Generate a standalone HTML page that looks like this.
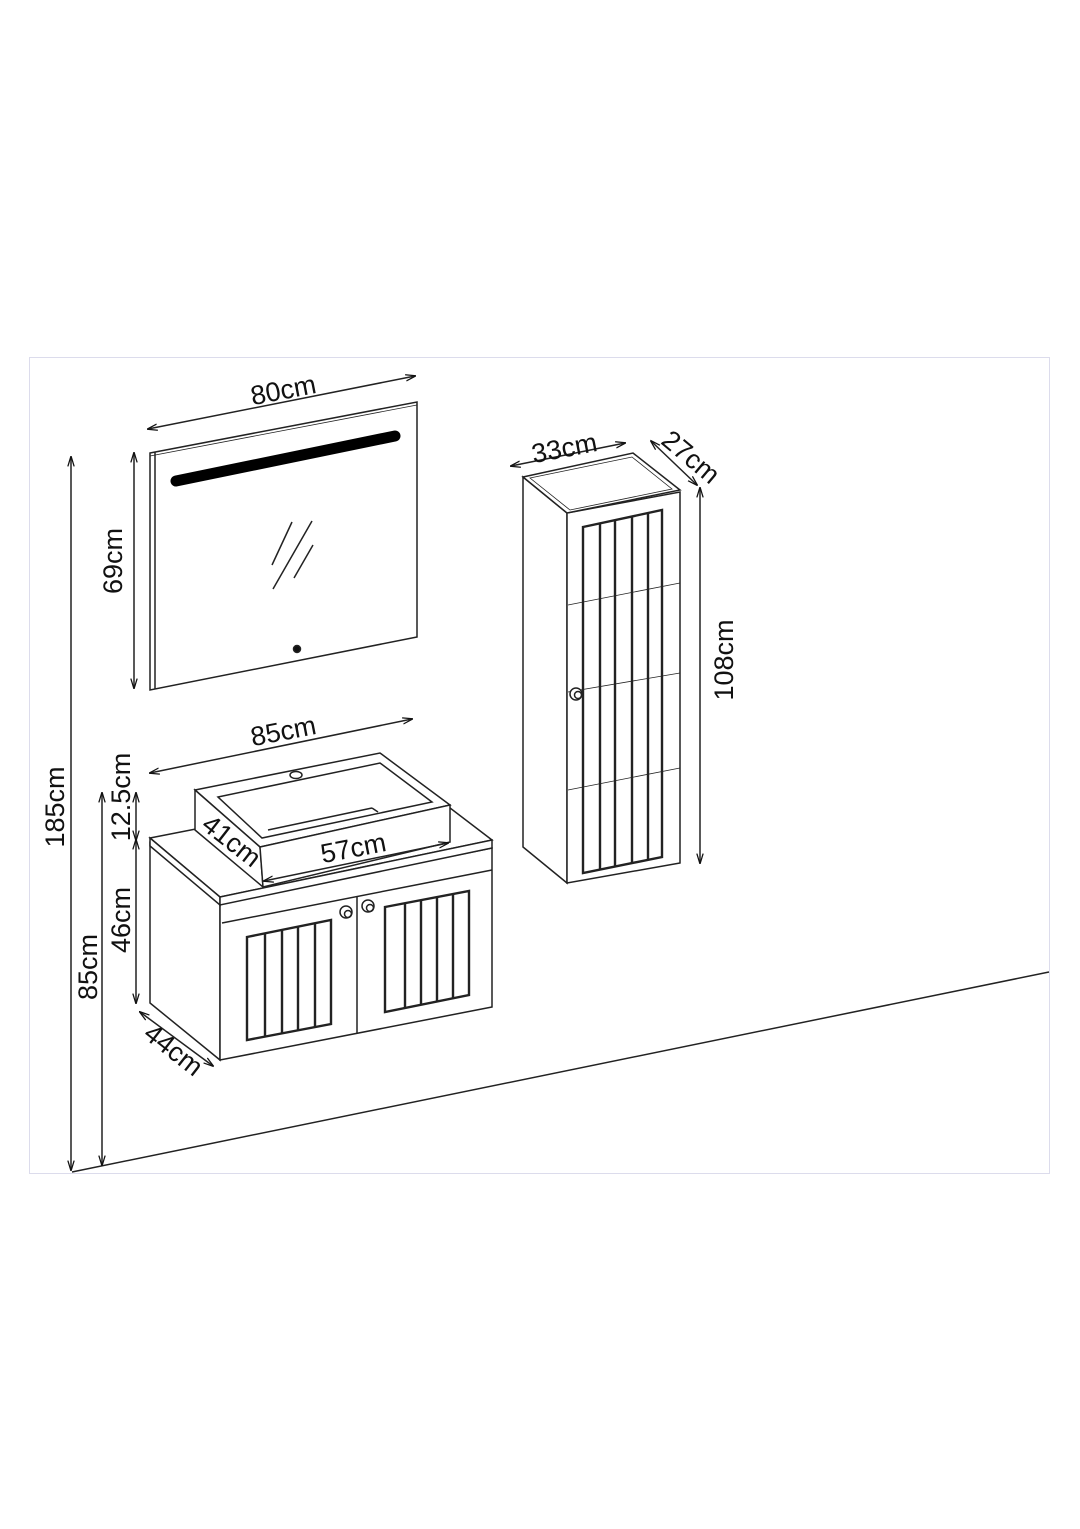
<!DOCTYPE html>
<html><head><meta charset="utf-8"><style>
html,body{margin:0;padding:0;background:#fff}
svg{display:block}
text{font-family:"Liberation Sans",sans-serif;font-size:27px;fill:#111}
</style></head><body>
<svg width="1080" height="1529" viewBox="0 0 1080 1529" xmlns="http://www.w3.org/2000/svg">
<defs>
<marker id="a" viewBox="0 0 10 10" refX="9" refY="5" markerWidth="7" markerHeight="7" orient="auto-start-reverse"><path d="M0,2 L10,5 L0,8" fill="none" stroke="#111" stroke-width="1.2"/></marker>
</defs>
<rect x="29.5" y="357.5" width="1020" height="816" fill="none" stroke="#dcdcec" stroke-width="1"/>
<g stroke="#222" fill="none" stroke-width="1.5">
<line x1="72" y1="1172" x2="1049" y2="972"/>
<line x1="71" y1="457" x2="71" y2="1170" marker-start="url(#a)" marker-end="url(#a)"/>
<line x1="102" y1="793" x2="102" y2="1165" marker-start="url(#a)" marker-end="url(#a)"/>
<line x1="136" y1="793" x2="136" y2="840" marker-start="url(#a)" marker-end="url(#a)"/>
<line x1="136" y1="840" x2="136" y2="1003" marker-start="url(#a)" marker-end="url(#a)"/>
<line x1="134" y1="453" x2="134" y2="688" marker-start="url(#a)" marker-end="url(#a)"/>
<polygon points="150,453 417,402 417,637 150,690" fill="#fff"/>
<line x1="155" y1="452" x2="155" y2="689"/>
<line x1="150" y1="456" x2="417" y2="405" stroke-width="0.8"/>
<line x1="176" y1="481" x2="395" y2="436" stroke-width="11" stroke-linecap="round" stroke="#000"/>
<line x1="272" y1="565" x2="292" y2="522"/>
<line x1="273" y1="589" x2="312" y2="521"/>
<line x1="294" y1="578" x2="313" y2="545"/>
<circle cx="297" cy="649" r="3.5" fill="#111"/>
<line x1="148" y1="429" x2="415" y2="376" marker-start="url(#a)" marker-end="url(#a)"/>
<line x1="150" y1="773" x2="412" y2="719" marker-start="url(#a)" marker-end="url(#a)"/>
<polygon points="150,843 220,903 220,1060 150,1003" fill="#fff"/>
<polygon points="220,903 492,848 492,1007 220,1060" fill="#fff"/>
<polygon points="150,838 420,785 492,840 220,897" fill="#fff"/>
<polygon points="150,838 220,897 220,905 150,846" fill="#fff"/>
<polygon points="220,897 492,840 492,848 220,905" fill="#fff"/>
<line x1="222" y1="923" x2="492" y2="870"/>
<line x1="357" y1="897" x2="357" y2="1033"/>
<circle cx="346" cy="912" r="6" fill="#fff"/><circle cx="348" cy="914" r="3.5"/>
<circle cx="368" cy="906" r="6" fill="#fff"/><circle cx="370" cy="908" r="3.5"/>
<g stroke-width="2.4">
<polygon points="247,937 331,920 331,1024 247,1040"/>
<line x1="265" y1="933" x2="265" y2="1037"/><line x1="282" y1="930" x2="282" y2="1033"/><line x1="298" y1="927" x2="298" y2="1030"/><line x1="315" y1="923" x2="315" y2="1027"/>
<polygon points="385,907 469,891 469,995 385,1012"/>
<line x1="405" y1="903" x2="405" y2="1008"/><line x1="421" y1="900" x2="421" y2="1005"/><line x1="437" y1="897" x2="437" y2="1001"/><line x1="453" y1="894" x2="453" y2="998"/>
</g>
<polygon points="195,790 380,753 450,805 260,847" fill="#fff"/>
<polygon points="195,790 260,847 263,887 195,830" fill="#fff"/>
<polygon points="260,847 450,805 450,842 263,887" fill="#fff"/>
<polygon points="218,797 380,763 432,802 262,838"/>
<line x1="268" y1="830" x2="372" y2="808"/>
<line x1="372" y1="808" x2="378" y2="812"/>
<ellipse cx="296" cy="775" rx="6" ry="3.5"/>
<line x1="264" y1="881" x2="448" y2="843" marker-start="url(#a)" marker-end="url(#a)"/>
<line x1="140" y1="1012" x2="213" y2="1066" marker-start="url(#a)" marker-end="url(#a)"/>
<polygon points="523,477 567,513 567,883 523,847" fill="#fff"/>
<polygon points="567,513 680,492 680,863 567,883" fill="#fff"/>
<polygon points="523,477 633,453 680,490 567,513" fill="#fff"/>
<polygon points="530,478 632,457 672,489 570,510" stroke-width="0.8"/>
<g stroke-width="0.8">
<line x1="568" y1="605" x2="680" y2="583"/>
<line x1="568" y1="692" x2="680" y2="673"/>
<line x1="568" y1="790" x2="680" y2="768"/>
</g>
<g stroke-width="2.4">
<polygon points="583,527 662,510 662,857 583,873"/>
<line x1="600" y1="524" x2="600" y2="870"/><line x1="615" y1="521" x2="615" y2="867"/><line x1="632" y1="517" x2="632" y2="864"/><line x1="648" y1="513" x2="648" y2="860"/>
</g>
<circle cx="576" cy="694" r="6" fill="#fff"/><circle cx="578" cy="695" r="3.5"/>
<line x1="511" y1="466" x2="625" y2="443" marker-start="url(#a)" marker-end="url(#a)"/>
<line x1="651" y1="441" x2="697" y2="485" marker-start="url(#a)" marker-end="url(#a)"/>
<line x1="700" y1="488" x2="700" y2="863" marker-start="url(#a)" marker-end="url(#a)"/>
</g>
<text x="285" y="399" text-anchor="middle" transform="rotate(-11 285 399)">80cm</text>
<text x="285" y="740" text-anchor="middle" transform="rotate(-11 285 740)">85cm</text>
<text x="566" y="457" text-anchor="middle" transform="rotate(-11 566 457)">33cm</text>
<text x="685" y="464" text-anchor="middle" transform="rotate(40 685 464)">27cm</text>
<text x="355" y="857" text-anchor="middle" transform="rotate(-11 355 857)">57cm</text>
<text x="226" y="848" text-anchor="middle" transform="rotate(38 226 848)">41cm</text>
<text x="168" y="1057" text-anchor="middle" transform="rotate(38 168 1057)">44cm</text>
<text x="122" y="561" text-anchor="middle" transform="rotate(-90 122 561)">69cm</text>
<text x="64" y="807" text-anchor="middle" transform="rotate(-90 64 807)">185cm</text>
<text x="97" y="967" text-anchor="middle" transform="rotate(-90 97 967)">85cm</text>
<text x="130" y="920" text-anchor="middle" transform="rotate(-90 130 920)">46cm</text>
<text x="130" y="797" text-anchor="middle" transform="rotate(-90 130 797)">12.5cm</text>
<text x="733" y="660" text-anchor="middle" transform="rotate(-90 733 660)">108cm</text>
</svg>
</body></html>
